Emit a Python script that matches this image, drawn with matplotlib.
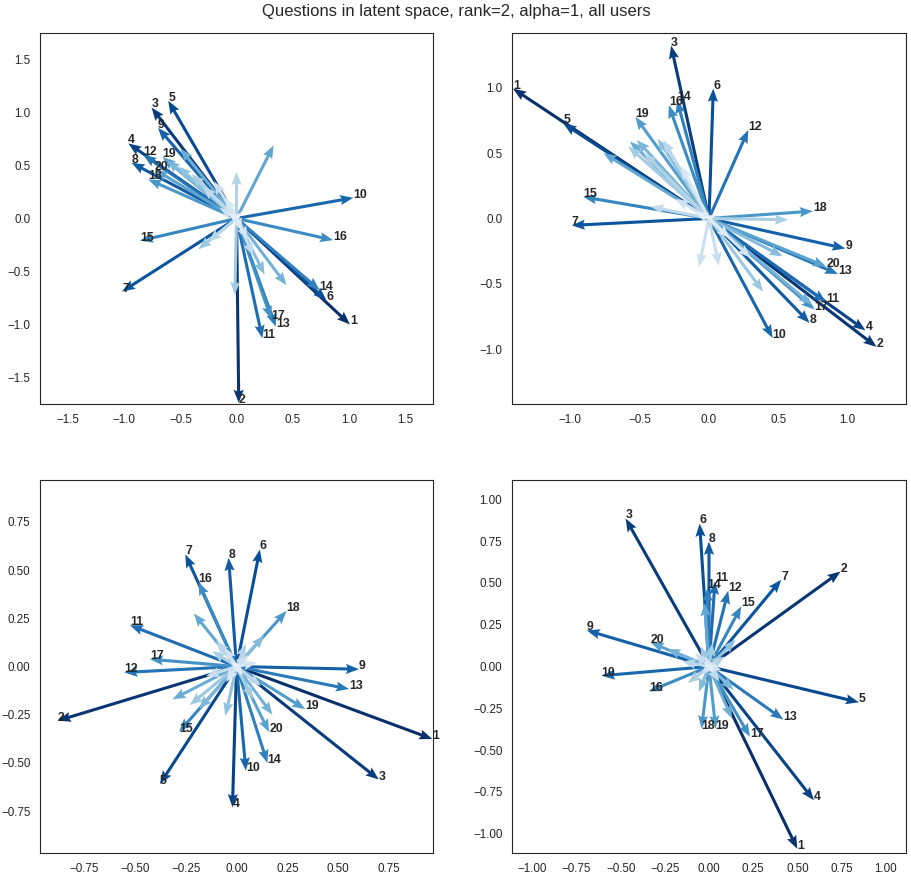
import numpy as np
import matplotlib
matplotlib.use("Agg")
import matplotlib.pyplot as plt
import seaborn as sns
from matplotlib.ticker import MultipleLocator

sns.set_style("white")
plt.rcParams['font.family'] = ['Liberation Sans', 'DejaVu Sans']

labels = [str(i) for i in range(1, 21)]

# top 20 questions per panel (labelled), then the rest (unlabelled)
p1_top_x = [1.01, 0.02, -0.757, -0.964, -0.608, 0.80, -1.02, -0.935, -0.70, 1.04,
            0.23, -0.83, 0.35, 0.74, -0.86, 0.86, 0.31, -0.786, -0.66, -0.727]
p1_top_y = [-1.00, -1.74, 1.047, 0.708, 1.11, -0.77, -0.69, 0.525, 0.855, 0.195,
            -1.13, 0.60, -1.02, -0.676, -0.21, -0.204, -0.95, 0.368, 0.58, 0.46]
p1_rest_x = [0.33, -0.50, 0.445, -0.62, 0.25, -0.52, -0.34, -0.015, -0.40, 0.0,
             -0.25, -0.30, 0.15, -0.20, -0.15, 0.10, -0.10, 0.05, -0.08, 0.04]
p1_rest_y = [0.69, 0.66, -0.63, 0.55, -0.53, 0.49, -0.29, -0.72, 0.42, 0.44,
             -0.22, 0.30, -0.35, 0.35, 0.10, -0.20, 0.20, -0.12, 0.05, 0.06]

p2_top_x = [-1.413, 1.208, -0.273, 1.128, -1.05, 0.031, -0.99, 0.725, 0.983, 0.459,
            0.845, 0.283, 0.93, -0.23, -0.906, -0.29, 0.761, 0.749, -0.531, 0.845]
p2_top_y = [0.994, -0.983, 1.323, -0.857, 0.727, 0.994, -0.053, -0.80, -0.23, -0.915,
            -0.64, 0.677, -0.426, 0.905, 0.165, 0.867, -0.697, 0.056, 0.778, -0.368]
p2_rest_x = [-0.76, -0.57, 0.74, -0.52, 0.53, -0.37, 0.39, -0.58, 0.57, -0.47,
             -0.33, -0.42, 0.072, -0.072, -0.24, 0.30, -0.20, 0.15, -0.10, 0.05]
p2_rest_y = [0.50, 0.59, -0.66, 0.60, -0.29, 0.61, -0.56, 0.55, -0.01, 0.50,
             0.60, 0.09, -0.36, -0.37, 0.15, -0.30, 0.40, -0.15, 0.05, 0.03]

p3_top_x = [0.964, -0.88, 0.70, -0.02, -0.377, 0.115, -0.252, -0.039, 0.603, 0.046,
            -0.525, -0.552, 0.554, 0.152, -0.282, -0.187, -0.426, 0.246, 0.338, 0.161]
p3_top_y = [-0.376, -0.281, -0.586, -0.73, -0.609, 0.607, 0.581, 0.564, -0.014, -0.54,
            0.214, -0.031, -0.117, -0.50, -0.338, 0.438, 0.038, 0.288, -0.221, -0.341]
p3_rest_x = [-0.21, -0.315, 0.177, -0.185, 0.136, -0.055, -0.23, 0.08, -0.12, 0.046,
             -0.10, 0.12, -0.15, 0.06, -0.06, 0.10, -0.05, 0.03, -0.03, 0.02]
p3_rest_y = [0.275, -0.17, -0.25, -0.22, 0.16, -0.255, -0.20, -0.17, 0.08, 0.118,
             0.135, -0.10, -0.05, 0.06, 0.10, 0.02, -0.08, -0.05, 0.03, 0.01]

p4_top_x = [0.50, 0.745, -0.472, 0.594, 0.849, -0.053, 0.409, 0.0, -0.692, -0.608,
            0.034, 0.109, 0.421, -0.009, 0.183, -0.34, 0.232, -0.042, 0.038, -0.33]
p4_top_y = [-1.09, 0.568, 0.885, -0.80, -0.214, 0.855, 0.519, 0.747, 0.216, -0.055,
            0.509, 0.453, -0.317, 0.469, 0.36, -0.149, -0.42, -0.372, -0.372, 0.143]
p4_rest_x = [-0.025, 0.13, -0.236, 0.14, -0.057, 0.15, -0.047, 0.019, -0.12, 0.09,
             -0.15, 0.06, -0.08, 0.04, -0.04, 0.07, -0.02, 0.03, -0.03, 0.01]
p4_rest_y = [0.38, -0.31, 0.105, -0.14, -0.15, 0.16, 0.12, 0.14, -0.10, 0.06,
             0.03, -0.09, 0.08, 0.03, -0.05, -0.02, 0.06, -0.04, 0.01, 0.02]

panels = [
    (p1_top_x, p1_top_y, p1_rest_x, p1_rest_y, 1.75, 0.5),
    (p2_top_x, p2_top_y, p2_rest_x, p2_rest_y, 1.42, 0.5),
    (p3_top_x, p3_top_y, p3_rest_x, p3_rest_y, 0.967, 0.25),
    (p4_top_x, p4_top_y, p4_rest_x, p4_rest_y, 1.115, 0.25),
]
positions = [
    [0.0439, 0.5378, 0.4309, 0.4245],
    [0.5614, 0.5378, 0.4320, 0.4245],
    [0.0439, 0.0240, 0.4309, 0.4268],
    [0.5614, 0.0240, 0.4320, 0.4268],
]

fig = plt.figure(figsize=(9.12, 8.74), dpi=100)

for (tx, ty, rx, ry, lim, step), pos in zip(panels, positions):
    ax = fig.add_axes(pos)
    x = np.array(tx + rx)
    y = np.array(ty + ry)
    n = len(x)
    colors = plt.cm.Blues(np.linspace(1.0, 0.08, n))
    ax.quiver(np.zeros(n), np.zeros(n), x, y, color=colors,
              angles='xy', scale_units='xy', scale=1,
              width=0.0078, headwidth=3.3, headlength=4.3, headaxislength=3.8)
    for lab, xi, yi in zip(labels, tx, ty):
        ax.text(xi, yi, lab, fontsize=8.8, fontweight='bold', color='.15')
    ax.set_xlim(-lim, lim)
    ax.set_ylim(-lim, lim)
    ax.xaxis.set_major_locator(MultipleLocator(step))
    ax.yaxis.set_major_locator(MultipleLocator(step))
    ax.tick_params(labelsize=8.4)

fig.suptitle("Questions in latent space, rank=2, alpha=1, all users", fontsize=12, y=0.995)
plt.savefig("out.png", dpi=100)
plt.close()
